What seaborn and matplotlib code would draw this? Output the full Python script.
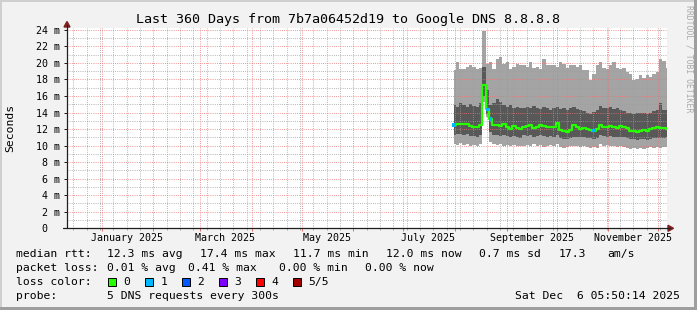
import numpy as np
import pandas as pd
import matplotlib
matplotlib.use("Agg")
import matplotlib.pyplot as plt
import matplotlib.transforms as mtransforms
from matplotlib.patches import Polygon, Rectangle
from matplotlib.lines import Line2D
from matplotlib.ticker import FuncFormatter
import seaborn as sns

# ---------------- data (2-day samples) ----------------
sample_start = "2025-07-31 12:00"
light_top = [19.1, 20.1, 19.3, 19.3, 19.5, 19.7, 19.5, 19.3, 19.4, 23.8, 19.9, 20.1, 19.3, 20.5, 20.7, 19.9,
             20.1, 19.3, 19.5, 19.9, 19.7,
             19.7, 19.5, 20.1, 19.4, 19.5, 19.3, 20.5, 19.8, 19.7, 19.7, 19.5, 20.1, 19.9, 19.4, 19.7, 19.8,
             19.5, 19.7, 19.1, 19.2, 17.9, 18.7, 19.7,
             20.1, 19.4, 19.3, 19.8, 20.1, 19.4, 19.3, 19.4, 18.9, 18.6, 17.9, 18.1, 18.5, 18.2, 18.5, 18.3,
             18.7, 18.9, 20.5, 20.2, 19.4]
dark_top = [14.9, 14.7, 15.1, 14.9, 14.7, 15.0, 14.8, 14.7, 15.1, 19.5, 16.7, 14.9, 15.1, 15.6, 15.3, 14.9,
            14.7, 14.9, 14.5, 14.7, 14.5,
            14.5, 14.7, 14.5, 14.8, 14.6, 14.4, 14.7, 14.5, 14.3, 14.6, 14.7, 14.4, 14.6, 14.3, 14.5, 14.7,
            14.4, 14.3, 14.2, 14.0, 13.8, 14.1, 14.3,
            14.8, 14.6, 14.5, 14.7, 14.4, 14.5, 14.3, 14.2, 14.0, 13.9, 13.8, 14.0, 13.9, 14.0, 13.8, 14.0,
            14.2, 14.3, 15.2, 14.3, 14.3]
median_rtt = [12.5, 12.6, 12.6, 12.6, 12.6, 12.4, 12.3, 12.3, 12.5, 17.3, 14.4, 13.2, 12.5, 12.5, 12.4, 12.6,
              12.3, 12.0, 12.4, 12.1, 12.0,
              12.3, 12.4, 12.5, 12.1, 12.3, 12.5, 12.4, 12.2, 12.3, 12.2, 12.7, 11.9, 11.8, 11.7, 11.9, 12.5,
              12.3, 12.0, 12.1, 12.0, 11.9, 11.8, 12.0,
              12.5, 12.3, 12.2, 12.4, 12.3, 12.1, 12.4, 12.3, 12.1, 11.8, 11.8, 11.7, 11.8, 11.9, 11.8, 12.0,
              12.1, 12.2, 12.1, 12.1, 12.0]
dark_bot = [11.3, 11.4, 11.4, 11.3, 11.4, 11.2, 11.2, 11.1, 11.3, 16.0, 13.8, 11.6, 11.3, 11.3, 11.2, 11.3,
            11.2, 11.0, 11.2, 11.0, 10.9,
            11.3, 11.2, 11.3, 11.0, 11.2, 11.3, 11.2, 11.1, 11.2, 11.0, 11.3, 10.9, 10.8, 10.8, 10.9, 11.1,
            11.1, 11.0, 11.0, 10.9, 10.9, 10.8, 10.9,
            11.3, 11.2, 11.1, 11.2, 11.1, 11.0, 11.1, 11.0, 10.9, 10.8, 10.8, 10.7, 10.8, 10.8, 10.7, 10.8,
            10.9, 10.9, 10.9, 10.9, 11.0]
light_bot = [10.2, 10.1, 10.3, 10.1, 10.2, 10.0, 10.1, 10.0, 10.2, 15.3, 13.4, 10.4, 10.2, 10.1, 10.2, 10.0,
             10.1, 9.9, 10.1, 10.0, 9.9,
             10.0, 10.1, 9.9, 10.2, 10.0, 10.1, 9.8, 10.0, 10.1, 9.9, 10.2, 9.8, 9.7, 9.8, 9.9, 10.0,
             9.9, 9.8, 9.9, 9.8, 9.7, 9.8, 9.7,
             10.2, 10.0, 10.1, 9.9, 10.0, 9.8, 9.9, 9.8, 9.7, 9.6, 9.7, 9.6, 9.7, 9.6, 9.7, 9.8,
             9.7, 9.8, 9.7, 9.8, 9.8]
loss = [1, 0, 0, 0, 0, 0, 0, 0, 0, 0, 1, 1, 0, 0, 0, 0, 0, 0, 0, 0, 0,
        0, 0, 0, 0, 0, 0, 0, 0, 0, 0, 0, 0, 0, 0, 0, 0, 0, 0, 0, 0, 0, 1, 0,
        0, 0, 0, 0, 0, 0, 0, 0, 0, 0, 0, 0, 0, 0, 0, 0, 0, 0, 0, 0, 0]

loss_labels = ["0", "1", "2", "3", "4", "5/5"]
loss_colors = ["#26ff00", "#00b8ff", "#0059ff", "#7e00ff", "#ff0000", "#a10000"]

y_ticks_ms = [0, 2, 4, 6, 8, 10, 12, 14, 16, 18, 20, 22, 24]
month_labels = ["January 2025", "March 2025", "May 2025", "July 2025", "September 2025", "November 2025"]
month_label_dates = ["2025-01-16", "2025-03-16", "2025-05-16", "2025-07-16", "2025-09-16", "2025-11-16"]

title = "Last 360 Days from 7b7a06452d19 to Google DNS 8.8.8.8"
stats_rtt = ["median rtt:", "12.3 ms avg", "17.4 ms max", "11.7 ms min", "12.0 ms now", "0.7 ms sd", "17.3", "am/s"]
stats_loss = ["packet loss:", "0.01 % avg", "0.41 % max", "0.00 % min", "0.00 % now"]
probe_text = ["probe:", "5 DNS requests every 300s"]
timestamp = "Sat Dec  6 05:50:14 2025"
end_time = pd.Timestamp("2025-12-06 05:50:14")

# ---------------- figure ----------------
sns.set_theme(style="white")
plt.rcParams["font.family"] = ["DejaVu Sans Mono"]

W, H = 697, 310
fig = plt.figure(figsize=(W / 100, H / 100), dpi=100, facecolor="#f2f2f2")


def fx(px):
    return px / W


def fy(py):
    return 1 - py / H


AX_L, AX_R, AX_T, AX_B = 67, 667, 27.7, 228.3
ax = fig.add_axes([fx(AX_L), fy(AX_B), (AX_R - AX_L) / W, (AX_B - AX_T) / H])
ax.set_facecolor("white")

dates = pd.date_range(sample_start, periods=len(median_rtt), freq="2D")
df = pd.DataFrame({"date": dates, "lt": light_top, "dt": dark_top, "med": median_rtt,
                   "db": dark_bot, "lb": light_bot, "loss": loss})

ax.fill_between(df["date"], df["lb"], df["lt"], step="mid", color="#a4a4a4", lw=0, zorder=1)
ax.fill_between(df["date"], df["db"], df["dt"], step="mid", color="#585858", lw=0, zorder=1.1)
sns.lineplot(data=df, x="date", y="med", ax=ax, color=loss_colors[0], lw=1.6,
             drawstyle="steps-mid", zorder=3, legend=False)
lossdf = df[df["loss"] > 0].copy()
lossdf["lc"] = [loss_labels[v] for v in lossdf["loss"]]
sns.scatterplot(data=lossdf, x="date", y="med", hue="lc", palette=dict(zip(loss_labels, loss_colors)),
                marker="s", s=6, linewidth=0, ax=ax, legend=False, zorder=4)

ymax = (AX_B - AX_T) / 8.27
ax.set_ylim(0, ymax)
ax.set_xlim(end_time - pd.Timedelta(days=360), end_time)

# grid / ticks
month_starts = pd.date_range("2025-01-01", "2025-12-01", freq="MS")
minor_days = pd.date_range("2024-12-15", "2025-12-06", freq="8D")
ax.set_xticks(month_starts)
ax.set_xticks(minor_days, minor=True)
ax.set_xticklabels([])
ax.set_yticks(y_ticks_ms)
ax.set_yticks([v + 1 for v in y_ticks_ms[:-1]], minor=True)
ax.yaxis.set_major_formatter(FuncFormatter(lambda v, p: "0  " if v == 0 else f"{int(v)} m"))
ax.set_axisbelow(False)
ax.grid(True, which="major", color=(0.92, 0.45, 0.45, 0.55), linestyle=(0, (1, 1.6)), linewidth=0.6)
ax.grid(True, which="minor", color=(0.62, 0.62, 0.62, 0.5), linestyle=(0, (1, 1.6)), linewidth=0.6)
ax.tick_params(axis="y", which="major", length=2.5, width=0.72, color="#1f1f1f", pad=2.4,
               labelsize=7.2, labelcolor="black", direction="out", left=True)
ax.tick_params(axis="y", which="minor", length=0)
ax.tick_params(axis="x", which="major", length=2.2, width=0.72, color=(0.87, 0.31, 0.31, 0.8),
               direction="out", bottom=True)
ax.tick_params(axis="x", which="minor", length=1.5, width=0.72, color=(0.56, 0.56, 0.56, 0.7),
               direction="out", bottom=True)
ax.set_xlabel("")
ax.set_ylabel("")
for s in ax.spines.values():
    s.set_visible(False)

# month labels
btr = mtransforms.blended_transform_factory(ax.transData, fig.transFigure)
for lab, d in zip(month_labels, month_label_dates):
    ax.text(pd.Timestamp(d), fy(237.8), lab, transform=btr, ha="center", va="center",
            fontsize=7.2, color="black", clip_on=False)

# axes lines with arrows
axis_col = "#1f1f1f"
arrow_col = "#801f1f"
fig.add_artist(Line2D([fx(AX_L), fx(AX_L)], [fy(AX_B), fy(24.5)], color=axis_col, lw=0.9,
                      transform=fig.transFigure))
fig.add_artist(Line2D([fx(63), fx(670)], [fy(AX_B), fy(AX_B)], color=axis_col, lw=0.9,
                      transform=fig.transFigure))
fig.add_artist(Polygon([[fx(AX_L - 3), fy(27)], [fx(AX_L + 3), fy(27)], [fx(AX_L), fy(21.5)]],
                       closed=True, color=arrow_col, transform=fig.transFigure))
fig.add_artist(Polygon([[fx(668), fy(AX_B - 3)], [fx(668), fy(AX_B + 3)], [fx(673.5), fy(AX_B)]],
                       closed=True, color=arrow_col, transform=fig.transFigure))

# texts
fig.text(fx(347.5), fy(19), title, ha="center", va="center", fontsize=9.6, color="black")
fig.text(fx(10), fy(127.5), "Seconds", rotation=90, ha="center", va="center", fontsize=8.2, color="black")
fig.text(fx(689), fy(59), "RRDTOOL / TOBI OETIKER", rotation=-90, ha="center", va="center",
         fontsize=5.9, color="#aaaaaa")

LEG = 8.2
rtt_x = [16, 107.3, 200, 293.3, 386, 479.3, 558.3, 607.7]
for s, x in zip(stats_rtt, rtt_x):
    fig.text(fx(x), fy(254), s, ha="left", va="center", fontsize=LEG, color="black")
loss_x = [16, 107.3, 188.3, 278.7, 365]
for s, x in zip(stats_loss, loss_x):
    fig.text(fx(x), fy(268), s, ha="left", va="center", fontsize=LEG, color="black")
fig.text(fx(16), fy(282), "loss color:", ha="left", va="center", fontsize=LEG, color="black")
for k, (lab, col) in enumerate(zip(loss_labels, loss_colors)):
    bx = 108.3 + k * 37.0
    fig.add_artist(Rectangle((fx(bx), fy(286.2)), 7.7 / W, 8.4 / H, facecolor=col, edgecolor="black",
                             lw=0.7, transform=fig.transFigure))
    fig.text(fx(bx + 15), fy(282), lab, ha="left", va="center", fontsize=LEG, color="black")
fig.text(fx(16), fy(296), probe_text[0], ha="left", va="center", fontsize=LEG, color="black")
fig.text(fx(107.3), fy(296), probe_text[1], ha="left", va="center", fontsize=LEG, color="black")
fig.text(fx(680), fy(296), timestamp, ha="right", va="center", fontsize=LEG, color="black")

# 3D frame
fig.add_artist(Rectangle((0, 0), 2 / W, 1, color="#cfcfcf", transform=fig.transFigure, lw=0))
fig.add_artist(Rectangle((0, 1 - 2 / H), 1, 2 / H, color="#cfcfcf", transform=fig.transFigure, lw=0))
fig.add_artist(Rectangle((1 - 3 / W, 0), 3 / W, 1, color="#9e9e9e", transform=fig.transFigure, lw=0))
fig.add_artist(Rectangle((0, 0), 1, 3 / H, color="#9e9e9e", transform=fig.transFigure, lw=0))

fig.savefig("out.png", dpi=100, facecolor=fig.get_facecolor())
